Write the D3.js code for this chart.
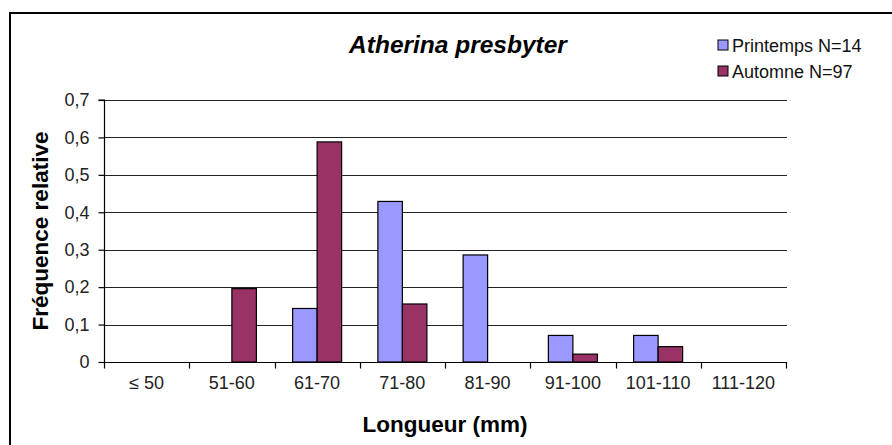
<!DOCTYPE html>
<html>
<head>
<meta charset="utf-8">
<script src="https://cdn.jsdelivr.net/npm/d3@7"></script>
<style>
  html, body { margin: 0; padding: 0; background: #fff; }
  svg { display: block; font-family: "Liberation Sans", Arial, sans-serif; }
</style>
</head>
<body>
<svg id="chart" width="892" height="445"></svg>
<script>
// Length classes (mm)
const categories = ["\u2264 50", "51-60", "61-70", "71-80", "81-90", "91-100", "101-110", "111-120"];
// Relative frequency per length class
const printemps = [0, 0, 0.143, 0.429, 0.286, 0.071, 0.071, 0];
const automne   = [0, 0.196, 0.588, 0.155, 0, 0.021, 0.041, 0];
const seriesNames = ["Printemps N=14", "Automne N=97"];
const seriesColors = ["#9999FF", "#993366"];
const yTicks = [0, 0.1, 0.2, 0.3, 0.4, 0.5, 0.6, 0.7];
const yTickLabels = ["0", "0,1", "0,2", "0,3", "0,4", "0,5", "0,6", "0,7"];

const svg = d3.select("#chart");
const plot = { left: 104, right: 786, top: 100, bottom: 362 };
const FONT = "'Liberation Sans', Arial, sans-serif";

// Outer chart frame
svg.append("rect")
  .attr("x", 10).attr("y", 13)
  .attr("width", 900).attr("height", 450)
  .attr("fill", "none").attr("stroke", "#000").attr("stroke-width", 2);

const x0 = d3.scaleBand().domain(categories).range([plot.left, plot.right]).padding(0);
const groupW = x0.bandwidth() * 0.575;
const x1 = d3.scaleBand().domain(seriesNames)
  .range([(x0.bandwidth() - groupW) / 2, (x0.bandwidth() + groupW) / 2]).padding(0);
const y = d3.scaleLinear().domain([0, 0.7]).range([plot.bottom, plot.top]);

// Horizontal gridlines
svg.append("g").selectAll("line")
  .data(yTicks.filter(d => d > 0))
  .join("line")
  .attr("x1", plot.left).attr("x2", plot.right + 1)
  .attr("y1", d => Math.round(y(d)) + 0.5).attr("y2", d => Math.round(y(d)) + 0.5)
  .attr("stroke", "#222").attr("stroke-width", 1.2);

// Bars
const rows = categories.map((c, i) => ({ cat: c, vals: [printemps[i], automne[i]] }));
const groups = svg.append("g").selectAll("g")
  .data(rows)
  .join("g")
  .attr("transform", d => `translate(${x0(d.cat)},0)`);
groups.selectAll("rect")
  .data(d => d.vals.map((v, k) => ({ v, k })).filter(e => e.v > 0))
  .join("rect")
  .attr("x", e => x1(seriesNames[e.k]))
  .attr("width", x1.bandwidth())
  .attr("y", e => y(e.v))
  .attr("height", e => y(0) - y(e.v))
  .attr("fill", e => seriesColors[e.k])
  .attr("stroke", "#000").attr("stroke-width", 1.2);

// Y axis
const yAxis = d3.axisLeft(y)
  .tickValues(yTicks)
  .tickFormat((d, i) => yTickLabels[i])
  .tickSize(6).tickPadding(9);
const gy = svg.append("g").attr("transform", `translate(${plot.left + 0.5},0)`).call(yAxis);
gy.select(".domain").attr("stroke", "#000").attr("stroke-width", 1.2).attr("d", `M-6,${plot.top}H0V${plot.bottom}`);
gy.selectAll(".tick line").attr("stroke", "#000").attr("stroke-width", 1.2);
gy.selectAll(".tick text").attr("fill", "#222").style("font-size", "18px").style("font-family", FONT);

// X axis with tick marks at class boundaries
const gx = svg.append("g").attr("transform", `translate(0,${plot.bottom + 0.5})`);
gx.append("line")
  .attr("x1", plot.left).attr("x2", plot.right + 1)
  .attr("stroke", "#000").attr("stroke-width", 1.2);
const bounds = categories.map(c => x0(c)).concat([plot.right]);
gx.selectAll("line.tk")
  .data(bounds)
  .join("line").attr("class", "tk")
  .attr("x1", d => Math.round(d) + 0.5).attr("x2", d => Math.round(d) + 0.5)
  .attr("y1", 0).attr("y2", 6)
  .attr("stroke", "#000").attr("stroke-width", 1.2);
gx.selectAll("text")
  .data(categories)
  .join("text")
  .attr("x", d => x0(d) + x0.bandwidth() / 2)
  .attr("y", 26)
  .attr("text-anchor", "middle")
  .attr("fill", "#222")
  .style("font-size", "18px")
  .text(d => d);

// Titles
svg.append("text")
  .attr("x", 458).attr("y", 53)
  .attr("text-anchor", "middle")
  .style("font-size", "24.5px").style("font-weight", "bold").style("font-style", "italic")
  .text("Atherina presbyter");

svg.append("text")
  .attr("x", 445).attr("y", 432)
  .attr("text-anchor", "middle")
  .style("font-size", "22.5px").style("font-weight", "bold")
  .text("Longueur (mm)");

svg.append("text")
  .attr("transform", "translate(48,231) rotate(-90)")
  .attr("text-anchor", "middle")
  .style("font-size", "22.5px").style("font-weight", "bold")
  .text("Fréquence relative");

// Legend
const legend = svg.append("g").selectAll("g")
  .data(seriesNames)
  .join("g")
  .attr("transform", (d, i) => `translate(718,${40 + i * 26})`);
legend.append("rect")
  .attr("width", 10).attr("height", 10)
  .attr("fill", (d, i) => seriesColors[i])
  .attr("stroke", "#000").attr("stroke-width", 1);
legend.append("text")
  .attr("x", 14).attr("y", 12)
  .style("font-size", "18px")
  .attr("fill", "#111")
  .text(d => d);
</script>
</body>
</html>
